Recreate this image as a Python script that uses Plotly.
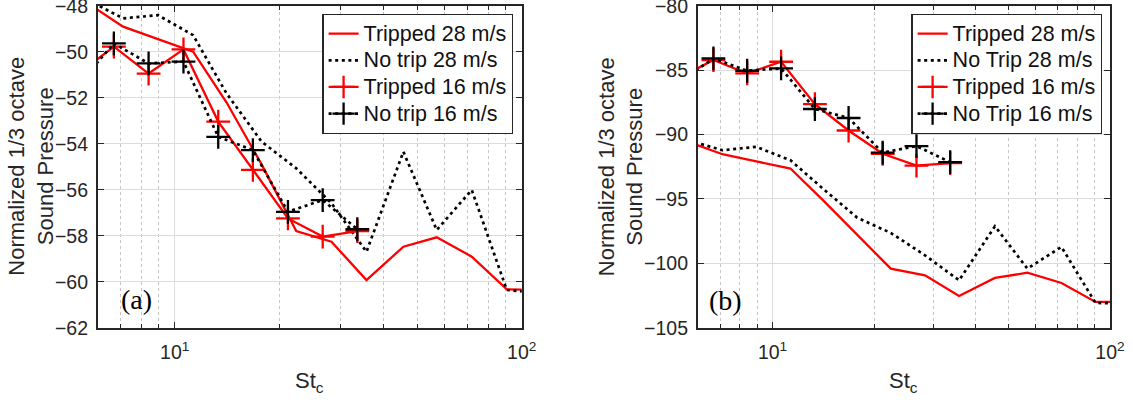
import math
import plotly.graph_objects as go

# Strouhal number (chord based) of the 1/3-octave band centres
st16 = [5.30, 6.68, 8.41, 10.6, 13.35, 16.8, 21.2, 26.7, 33.6]
st28 = [5.63, 7.10, 8.95, 11.3, 14.1, 17.8, 22.4, 28.3, 35.7, 45.6, 56.9, 71.8, 90.6, 114.0]

# Panel (a)
trip28_a = [-47.9, -48.91, -49.45, -50.0, -52.2, -54.9, -57.8, -58.26, -59.93, -58.48, -58.07, -58.91, -60.33, -60.36]
notrip28_a = [-47.76, -48.55, -48.41, -49.28, -51.81, -53.91, -55.07, -56.59, -58.70, -54.35, -57.75, -56.01, -60.36, -60.5]
trip16_a = [-50.94, -49.78, -50.95, -49.9, -53.04, -55.14, -57.25, -58.04, -57.8]
notrip16_a = [-51.38, -49.64, -50.51, -50.43, -53.70, -54.28, -56.96, -56.45, -57.72]

# Panel (b)
trip28_b = [-90.57, -91.53, -92.09, -92.64, -95.1, -97.8, -100.41, -100.93, -102.54, -101.14, -100.73, -101.53, -103.0, -103.0]
notrip28_b = [-90.46, -91.22, -90.96, -92.0, -94.2, -96.45, -97.64, -99.38, -101.32, -97.12, -100.41, -98.73, -103.08, -103.13]
trip16_b = [-85.6, -84.22, -85.26, -84.35, -87.64, -89.69, -91.5, -92.42, -92.22]
notrip16_b = [-85.9, -84.09, -85.05, -84.87, -88.02, -88.72, -91.41, -90.9, -92.15]

names_a = ["Tripped 28 m/s", "No trip 28 m/s", "Tripped 16 m/s", "No trip 16 m/s"]
names_b = ["Tripped 28 m/s", "No Trip 28 m/s", "Tripped 16 m/s", "No Trip 16 m/s"]

yticks_a = [-62, -60, -58, -56, -54, -52, -50, -48]
yticks_b = [-105, -100, -95, -90, -85, -80]
xticks = [10, 100]
xticklabels = ["10<sup>1</sup>", "10<sup>2</sup>"]
xminor = [7, 8, 9, 20, 30, 40, 50, 60, 70, 80, 90]

W, H = 1133, 406
RED = "#ff0000"
BLACK = "#000000"
AXIS = "#262626"
SANS = "Liberation Sans, Arial, Helvetica, sans-serif"
SERIF = "Liberation Serif, Times New Roman, serif"
DOT = "3px,3.6px"
LEGEND_TEXT = '<span style="font-size:21.5px">{}</span>'

fig = go.Figure()


def add_panel(xa, ya, leg, t28, n28, t16, n16, names):
    fig.add_trace(go.Scatter(
        x=st28, y=t28, mode="lines", name=LEGEND_TEXT.format(names[0]),
        line=dict(color=RED, width=2.3),
        xaxis=xa, yaxis=ya, legend=leg))
    fig.add_trace(go.Scatter(
        x=st28, y=n28, mode="lines", name=LEGEND_TEXT.format(names[1]),
        line=dict(color=BLACK, width=2.7, dash=DOT),
        xaxis=xa, yaxis=ya, legend=leg))
    fig.add_trace(go.Scatter(
        x=st16, y=t16, mode="lines+markers", name=LEGEND_TEXT.format(names[2]),
        line=dict(color=RED, width=2.3),
        marker=dict(symbol="cross-thin", size=17, line=dict(color=RED, width=2.3)),
        xaxis=xa, yaxis=ya, legend=leg))
    fig.add_trace(go.Scatter(
        x=st16, y=n16, mode="lines+markers", name=LEGEND_TEXT.format(names[3]),
        line=dict(color=BLACK, width=2.7, dash=DOT),
        marker=dict(symbol="cross-thin", size=17, line=dict(color=BLACK, width=2.3)),
        xaxis=xa, yaxis=ya, legend=leg))


add_panel("x", "y", "legend", trip28_a, notrip28_a, trip16_a, notrip16_a, names_a)
add_panel("x2", "y2", "legend2", trip28_b, notrip28_b, trip16_b, notrip16_b, names_b)


def xaxis(domain, anchor):
    return dict(
        domain=domain, anchor=anchor, type="log",
        range=[math.log10(6), 2], automargin=False,
        tickmode="array", tickvals=xticks, ticktext=xticklabels,
        ticks="inside", ticklen=6, tickwidth=1.3, tickcolor=AXIS,
        showline=True, linecolor=AXIS, linewidth=1.6, mirror="ticks",
        showgrid=True, gridcolor="#dcdcdc", gridwidth=1, zeroline=False,
        tickfont=dict(family=SANS, size=19.5, color=AXIS),
        ticklabelstandoff=6, ticklabeloverflow="allow",
        minor=dict(tickmode="array", tickvals=xminor, ticks="inside", ticklen=4,
                   tickwidth=1.1, tickcolor=AXIS, showgrid=True,
                   gridcolor="#c4c4c4", griddash="dot", gridwidth=1),
    )


def yaxis(domain, anchor, rng, vals):
    return dict(
        domain=domain, anchor=anchor, range=rng, automargin=False,
        tickmode="array", tickvals=vals,
        ticks="inside", ticklen=6, tickwidth=1.3, tickcolor=AXIS,
        showline=True, linecolor=AXIS, linewidth=1.6, mirror="ticks",
        showgrid=True, gridcolor="#dcdcdc", gridwidth=1, zeroline=False,
        tickfont=dict(family=SANS, size=19.5, color=AXIS),
        ticklabelstandoff=4, ticklabeloverflow="allow",
    )


ydom = [1 - 327.7 / H, 1 - 5.7 / H]
legend_common = dict(
    yanchor="top", y=1 - 14 / H, xanchor="right",
    bgcolor="white", bordercolor=AXIS, borderwidth=1.3,
    font=dict(family=SANS, size=18.2, color="#111111"),
    itemwidth=30, tracegroupgap=0,
)

ytitle = "Normalized 1/3 octave<br>Sound Pressure"
annotations = [
    dict(text=ytitle, x=31 / W, y=1 - 166.7 / H, xref="paper", yref="paper",
         xanchor="center", yanchor="middle", textangle=-90, showarrow=False,
         font=dict(family=SANS, size=22, color=AXIS)),
    dict(text=ytitle, x=620.5 / W, y=1 - 166.7 / H, xref="paper", yref="paper",
         xanchor="center", yanchor="middle", textangle=-90, showarrow=False,
         font=dict(family=SANS, size=22, color=AXIS)),
    dict(text="St<sub>c</sub>", x=309.7 / W, y=1 - 366 / H, xref="paper", yref="paper",
         xanchor="center", yanchor="top", showarrow=False,
         font=dict(family=SANS, size=22, color=AXIS)),
    dict(text="St<sub>c</sub>", x=903.9 / W, y=1 - 366 / H, xref="paper", yref="paper",
         xanchor="center", yanchor="top", showarrow=False,
         font=dict(family=SANS, size=22, color=AXIS)),
    dict(text="(a)", x=136 / W, y=1 - 299 / H, xref="paper", yref="paper",
         xanchor="center", yanchor="middle", showarrow=False,
         font=dict(family=SERIF, size=28, color="#000000")),
    dict(text="(b)", x=725.3 / W, y=1 - 300 / H, xref="paper", yref="paper",
         xanchor="center", yanchor="middle", showarrow=False,
         font=dict(family=SERIF, size=28, color="#000000")),
]

fig.update_layout(
    width=W, height=H,
    margin=dict(l=0, r=0, t=0, b=0, autoexpand=False),
    paper_bgcolor="white", plot_bgcolor="white",
    xaxis=xaxis([97.7 / W, 521.7 / W], "y"),
    yaxis=yaxis(ydom, "x", [-62, -48], yticks_a),
    xaxis2=xaxis([697.7 / W, 1110 / W], "y2"),
    yaxis2=yaxis(ydom, "x2", [-105, -80], yticks_b),
    legend=dict(legend_common, x=513.3 / W),
    legend2=dict(legend_common, x=1102.3 / W),
    annotations=annotations,
    showlegend=True,
)

fig.write_html("out.html")
